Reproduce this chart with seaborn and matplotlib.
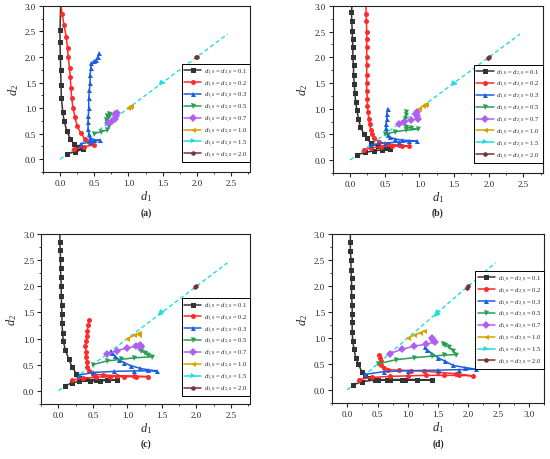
import matplotlib
matplotlib.use("Agg")
import matplotlib.pyplot as plt
from matplotlib.ticker import MultipleLocator
import seaborn as sns

# ---- data ----
# panel (a)
a01_x = [0.10, 0.22, 0.34, 0.27, 0.20, 0.15, 0.10, 0.06, 0.04, 0.02, 0.015, 0.01, 0.005, 0.0, 0.0, 0.01]
a01_y = [0.10, 0.15, 0.19, 0.24, 0.30, 0.40, 0.55, 0.75, 0.93, 1.20, 1.45, 1.75, 2.00, 2.30, 2.52, 3.05]
a02_x = [0.20, 0.35, 0.49, 0.42, 0.36, 0.30, 0.25, 0.22, 0.19, 0.17, 0.16, 0.15, 0.14, 0.12, 0.11, 0.09, 0.06, 0.03, 0.01]
a02_y = [0.20, 0.24, 0.28, 0.33, 0.40, 0.52, 0.65, 0.82, 1.00, 1.20, 1.40, 1.60, 1.78, 2.00, 2.17, 2.40, 2.62, 2.85, 3.05]
a03_x = [0.30, 0.45, 0.58, 0.50, 0.44, 0.42, 0.41, 0.41, 0.415, 0.42, 0.42, 0.43, 0.44, 0.44, 0.45, 0.46, 0.50, 0.53, 0.55, 0.57]
a03_y = [0.30, 0.34, 0.37, 0.38, 0.42, 0.50, 0.60, 0.73, 0.85, 1.00, 1.19, 1.35, 1.50, 1.64, 1.78, 1.88, 1.92, 1.94, 2.00, 2.07]
a05_x = [0.50, 0.60, 0.69, 0.72, 0.68, 0.67, 0.70, 0.69, 0.72, 0.73]
a05_y = [0.50, 0.54, 0.57, 0.64, 0.70, 0.76, 0.80, 0.85, 0.88, 0.86]
a07_x = [0.70, 0.76, 0.80, 0.82, 0.81, 0.83]
a07_y = [0.70, 0.74, 0.78, 0.84, 0.88, 0.91]
a10_x = [1.00, 1.02, 1.04, 1.03]
a10_y = [1.00, 1.03, 1.05, 1.02]
a15_x = [1.50, 1.49]
a15_y = [1.50, 1.49]
a20_x = [2.00, 1.99]
a20_y = [2.00, 2.00]

# panel (b)
b01_x = [0.10, 0.22, 0.35, 0.46, 0.57, 0.50, 0.40, 0.30, 0.24, 0.20, 0.15, 0.12, 0.10, 0.08, 0.07, 0.06, 0.05, 0.05, 0.04, 0.04, 0.035, 0.03, 0.025, 0.02, 0.03]
b01_y = [0.10, 0.15, 0.18, 0.20, 0.21, 0.23, 0.27, 0.33, 0.42, 0.50, 0.65, 0.80, 0.97, 1.13, 1.30, 1.48, 1.65, 1.84, 2.00, 2.20, 2.35, 2.52, 2.70, 2.88, 3.05]
b02_x = [0.20, 0.30, 0.45, 0.60, 0.75, 0.85, 0.70, 0.55, 0.42, 0.35, 0.32, 0.30, 0.28, 0.27, 0.26, 0.25, 0.25, 0.24, 0.24, 0.24, 0.24, 0.24, 0.24, 0.24, 0.24, 0.235, 0.23, 0.23]
b02_y = [0.20, 0.24, 0.26, 0.27, 0.27, 0.27, 0.29, 0.31, 0.35, 0.42, 0.50, 0.58, 0.70, 0.80, 0.93, 1.05, 1.19, 1.35, 1.50, 1.65, 1.84, 2.00, 2.20, 2.35, 2.50, 2.70, 2.85, 3.05]
b03_x = [0.30, 0.50, 0.70, 0.97, 0.85, 0.75, 0.65, 0.58, 0.54, 0.53, 0.52, 0.52, 0.53, 0.53, 0.54]
b03_y = [0.30, 0.33, 0.35, 0.37, 0.38, 0.39, 0.41, 0.44, 0.48, 0.55, 0.62, 0.70, 0.80, 0.90, 1.00]
b05_x = [0.50, 0.65, 0.80, 0.98, 0.88, 0.80, 0.77, 0.79, 0.80, 0.81]
b05_y = [0.50, 0.55, 0.58, 0.60, 0.62, 0.65, 0.72, 0.80, 0.88, 0.93]
b07_x = [0.70, 0.78, 0.88, 0.98, 0.97, 0.95, 0.96]
b07_y = [0.70, 0.75, 0.78, 0.80, 0.86, 0.90, 0.93]
b10_x = [1.00, 1.05, 1.10, 1.08]
b10_y = [1.00, 1.05, 1.10, 1.07]
b15_x = [1.50, 1.52]
b15_y = [1.50, 1.48]
b20_x = [2.00, 1.99]
b20_y = [2.00, 1.99]

# panel (c)
c01_x = [0.10, 0.20, 0.30, 0.45, 0.60, 0.72, 0.85, 0.70, 0.55, 0.40, 0.30, 0.26, 0.20, 0.15, 0.10, 0.07, 0.06, 0.05, 0.05, 0.045, 0.04, 0.04, 0.035, 0.03, 0.03, 0.025, 0.02, 0.02]
c01_y = [0.10, 0.15, 0.18, 0.19, 0.19, 0.20, 0.21, 0.21, 0.21, 0.22, 0.25, 0.32, 0.45, 0.60, 0.78, 0.95, 1.10, 1.30, 1.47, 1.65, 1.82, 2.00, 2.17, 2.35, 2.52, 2.70, 2.85, 3.05]
c02_x = [0.20, 0.35, 0.55, 0.75, 0.95, 1.12, 1.30, 1.10, 0.85, 0.65, 0.50, 0.44, 0.42, 0.41, 0.40, 0.40, 0.39, 0.40, 0.41, 0.42, 0.43, 0.44]
c02_y = [0.20, 0.24, 0.26, 0.27, 0.27, 0.27, 0.27, 0.28, 0.29, 0.30, 0.32, 0.37, 0.45, 0.55, 0.65, 0.75, 0.85, 0.95, 1.05, 1.15, 1.25, 1.35]
c03_x = [0.30, 0.50, 0.80, 1.10, 1.43, 1.30, 1.18, 1.05, 0.95, 0.88, 0.82, 0.78, 0.76]
c03_y = [0.30, 0.35, 0.37, 0.38, 0.38, 0.40, 0.43, 0.48, 0.54, 0.59, 0.66, 0.72, 0.77]
c05_x = [0.50, 0.70, 0.90, 1.10, 1.35, 1.30, 1.25, 1.20, 1.17]
c05_y = [0.50, 0.57, 0.60, 0.63, 0.65, 0.68, 0.72, 0.77, 0.80]
c07_x = [0.70, 0.85, 1.00, 1.12, 1.18, 1.20, 1.19]
c07_y = [0.70, 0.77, 0.82, 0.85, 0.88, 0.84, 0.86]
c10_x = [1.00, 1.10, 1.17, 1.17]
c10_y = [1.00, 1.06, 1.10, 1.06]
c15_x = [1.50, 1.48]
c15_y = [1.50, 1.47]
c20_x = [2.00, 1.98]
c20_y = [2.00, 1.98]

# panel (d)
d01_x = [0.10, 0.25, 0.45, 0.70, 0.95, 1.15, 1.40, 1.15, 0.90, 0.65, 0.50, 0.38, 0.30, 0.24, 0.18, 0.14, 0.11, 0.09, 0.08, 0.08, 0.08, 0.08, 0.07, 0.07, 0.07, 0.06, 0.06, 0.05, 0.05, 0.05]
d01_y = [0.10, 0.16, 0.19, 0.20, 0.20, 0.20, 0.19, 0.19, 0.19, 0.19, 0.20, 0.22, 0.27, 0.35, 0.50, 0.62, 0.78, 0.95, 1.12, 1.30, 1.47, 1.64, 1.80, 1.98, 2.15, 2.30, 2.50, 2.68, 2.85, 3.05]
d02_x = [0.20, 0.40, 0.70, 1.00, 1.30, 1.60, 1.85, 2.07, 1.80, 1.50, 1.27, 1.05, 0.85, 0.68, 0.60, 0.56, 0.55, 0.54, 0.53]
d02_y = [0.20, 0.24, 0.26, 0.27, 0.28, 0.28, 0.28, 0.27, 0.31, 0.34, 0.36, 0.37, 0.38, 0.39, 0.42, 0.48, 0.55, 0.62, 0.68]
d03_x = [0.30, 0.60, 1.00, 1.50, 1.85, 2.12, 1.95, 1.75, 1.62, 1.50, 1.40, 1.32, 1.28]
d03_y = [0.30, 0.35, 0.37, 0.38, 0.39, 0.40, 0.43, 0.47, 0.55, 0.62, 0.70, 0.77, 0.82]
d05_x = [0.50, 0.80, 1.10, 1.40, 1.60, 1.80, 1.75, 1.68, 1.62, 1.58]
d05_y = [0.50, 0.58, 0.62, 0.65, 0.67, 0.68, 0.75, 0.82, 0.86, 0.89]
d07_x = [0.70, 0.90, 1.10, 1.30, 1.45, 1.42, 1.40]
d07_y = [0.70, 0.78, 0.84, 0.88, 0.92, 0.97, 1.00]
d10_x = [1.00, 1.10, 1.20, 1.27]
d10_y = [1.00, 1.05, 1.10, 1.13]
d15_x = [1.50, 1.48, 1.50]
d15_y = [1.50, 1.44, 1.47]
d20_x = [2.00, 1.98]
d20_y = [2.00, 1.96]

diag_x = [0.0, 2.45]
diag_y = [0.0, 2.45]

init_vals = ["0.1", "0.2", "0.3", "0.5", "0.7", "1.0", "1.5", "2.0"]
colors = ["#333333", "#ff2a2a", "#1a5fe0", "#26a050", "#b060f0", "#d8a000", "#22dddd", "#7a3333"]
markers = ["s", "o", "^", "v", "D", "<", ">", "h"]

panels = {
    "a": [(a01_x, a01_y), (a02_x, a02_y), (a03_x, a03_y), (a05_x, a05_y),
          (a07_x, a07_y), (a10_x, a10_y), (a15_x, a15_y), (a20_x, a20_y)],
    "b": [(b01_x, b01_y), (b02_x, b02_y), (b03_x, b03_y), (b05_x, b05_y),
          (b07_x, b07_y), (b10_x, b10_y), (b15_x, b15_y), (b20_x, b20_y)],
    "c": [(c01_x, c01_y), (c02_x, c02_y), (c03_x, c03_y), (c05_x, c05_y),
          (c07_x, c07_y), (c10_x, c10_y), (c15_x, c15_y), (c20_x, c20_y)],
    "d": [(d01_x, d01_y), (d02_x, d02_y), (d03_x, d03_y), (d05_x, d05_y),
          (d07_x, d07_y), (d10_x, d10_y), (d15_x, d15_y), (d20_x, d20_y)],
}

sns.set_style("ticks")
plt.rcParams["font.family"] = ["Liberation Serif", "DejaVu Serif"]
plt.rcParams["mathtext.fontset"] = "custom"
plt.rcParams["mathtext.rm"] = "Liberation Serif"
plt.rcParams["mathtext.it"] = "Liberation Serif:italic"

fig = plt.figure(figsize=(5.5, 4.6), dpi=100)

# axes rectangles [left, bottom, width, height], x-limits, legend anchor y, panel label y
layout = {
    "a": ([0.078, 0.624, 0.377, 0.361], (-0.25, 2.78), 0.06, 0.537),
    "b": ([0.605, 0.622, 0.382, 0.363], (-0.25, 2.78), 0.06, 0.537),
    "c": ([0.075, 0.120, 0.380, 0.369], (-0.25, 2.78), 0.045, 0.035),
    "d": ([0.604, 0.122, 0.385, 0.367], (-0.25, 3.25), 0.20, 0.035),
}

for key, series in panels.items():
    rect, xlim, leg_y, lab_y = layout[key]
    ax = fig.add_axes(rect)
    sns.lineplot(x=diag_x, y=diag_y, ax=ax, color="#22dddd", lw=1.0,
                 linestyle=(0, (3, 2)), sort=False, estimator=None)
    for (xs, ys), v, c, m in zip(series, init_vals, colors, markers):
        sns.lineplot(x=xs, y=ys, ax=ax, color=c, marker=m, markersize=3.6,
                     markeredgewidth=0, lw=1.1, sort=False, estimator=None,
                     label=rf"$d_{{1,0}}$ = $d_{{2,0}}$ = {v}")
    ax.set_xlim(*xlim)
    ax.set_ylim(-0.25, 3.0)
    ax.xaxis.set_major_locator(MultipleLocator(0.5))
    ax.xaxis.set_minor_locator(MultipleLocator(0.25))
    ax.yaxis.set_major_locator(MultipleLocator(0.5))
    ax.yaxis.set_minor_locator(MultipleLocator(0.25))
    ax.xaxis.set_major_formatter(plt.FormatStrFormatter("%.1f"))
    ax.yaxis.set_major_formatter(plt.FormatStrFormatter("%.1f"))
    ax.tick_params(which="major", direction="out", length=3, width=0.8, labelsize=6.5, pad=2)
    ax.tick_params(which="minor", direction="out", length=1.5, width=0.6)
    for s in ax.spines.values():
        s.set_linewidth(0.8)
        s.set_color("#222222")
    ax.set_xlabel(r"$d_1$", fontsize=9, labelpad=1)
    ax.set_ylabel(r"$d_2$", fontsize=9, labelpad=3)
    leg = ax.legend(loc="lower right", bbox_to_anchor=(1.0, leg_y), fontsize=4.8,
                    frameon=True, fancybox=False, edgecolor="black", framealpha=1,
                    handlelength=2.6, handletextpad=0.4, borderpad=0.35,
                    labelspacing=0.22, borderaxespad=0.0)
    leg.get_frame().set_linewidth(0.7)
    fig.text(rect[0] + rect[2] / 2, lab_y, f"({key})", ha="center", va="center",
             fontsize=7, fontweight="bold")

fig.savefig("out.png", dpi=100)
